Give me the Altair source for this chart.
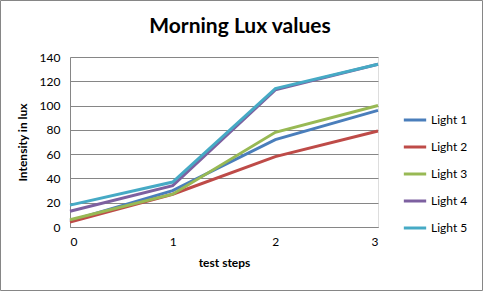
import altair as alt
import pandas as pd

steps = [0, 1, 2, 3]
series_names = ["Light 1", "Light 2", "Light 3", "Light 4", "Light 5"]
light1 = [5, 30, 72, 96]
light2 = [4, 27, 58, 79]
light3 = [6, 27, 78, 100]
light4 = [13, 34, 113, 134]
light5 = [18, 37, 114, 134]
colors = ["#4A7EBB", "#BE4B48", "#98B954", "#7D60A0", "#46AAC5"]
title_text = "Morning Lux values"

rows = []
for name, vals in zip(series_names, [light1, light2, light3, light4, light5]):
    for s, v in zip(steps, vals):
        rows.append({"step": s, "lux": v, "series": name, "order": series_names.index(name)})
df = pd.DataFrame(rows)

FONT = "Lato"

lines = alt.Chart(df).mark_line(strokeWidth=3).encode(
    x=alt.X("step:Q", scale=alt.Scale(domain=[0, 3], nice=False),
            axis=alt.Axis(values=steps, format="d", grid=False, ticks=False,
                          domainColor="#868686", labelPadding=9, labelFontSize=12,
                          labelFont=FONT, labelColor="black",
                          title="test steps", titleFont=FONT, titleFontSize=12,
                          titleFontWeight="bold", titlePadding=10, titleColor="black")),
    y=alt.Y("lux:Q", scale=alt.Scale(domain=[0, 140], nice=False),
            axis=alt.Axis(values=[0, 20, 40, 60, 80, 100, 120, 140], grid=True,
                          gridColor="#868686", ticks=False, domainColor="#868686",
                          labelPadding=10, labelFontSize=12, labelFont=FONT,
                          labelColor="black",
                          title="Intensity in lux", titleFont=FONT, titleFontSize=12,
                          titleFontWeight="bold", titlePadding=10, titleColor="black")),
    color=alt.Color("series:N", scale=alt.Scale(domain=series_names, range=colors),
                    legend=alt.Legend(title=None, orient="none", legendX=332, legendY=50,
                                      symbolType="stroke", symbolStrokeWidth=3,
                                      symbolSize=500, labelFont=FONT, labelFontSize=12,
                                      labelColor="black", rowPadding=8, labelOffset=3)),
    order=alt.Order("order:Q"),
    detail="series:N",
)

base1 = alt.Chart(pd.DataFrame({"t": [title_text]}))

border = base1.mark_rect(
    filled=False, stroke="#868686", strokeWidth=1
).encode(
    x=alt.value(-69.5), x2=alt.value(412.5), y=alt.value(-56.5), y2=alt.value(233.5)
)

title = base1.mark_text(
    font=FONT, fontSize=21, fontWeight="bold", color="black",
    align="center", baseline="middle"
).encode(text="t:N", x=alt.value(170), y=alt.value(-30))

chart = alt.layer(border, title, lines).properties(
    width=308, height=170,
    padding={"left": 70, "top": 57, "right": 105, "bottom": 64},
    autosize=alt.AutoSizeParams(type="none"),
).configure_view(stroke=None).configure(background="white")

chart.save("out.html", embed_options={"renderer": "svg", "actions": False})
